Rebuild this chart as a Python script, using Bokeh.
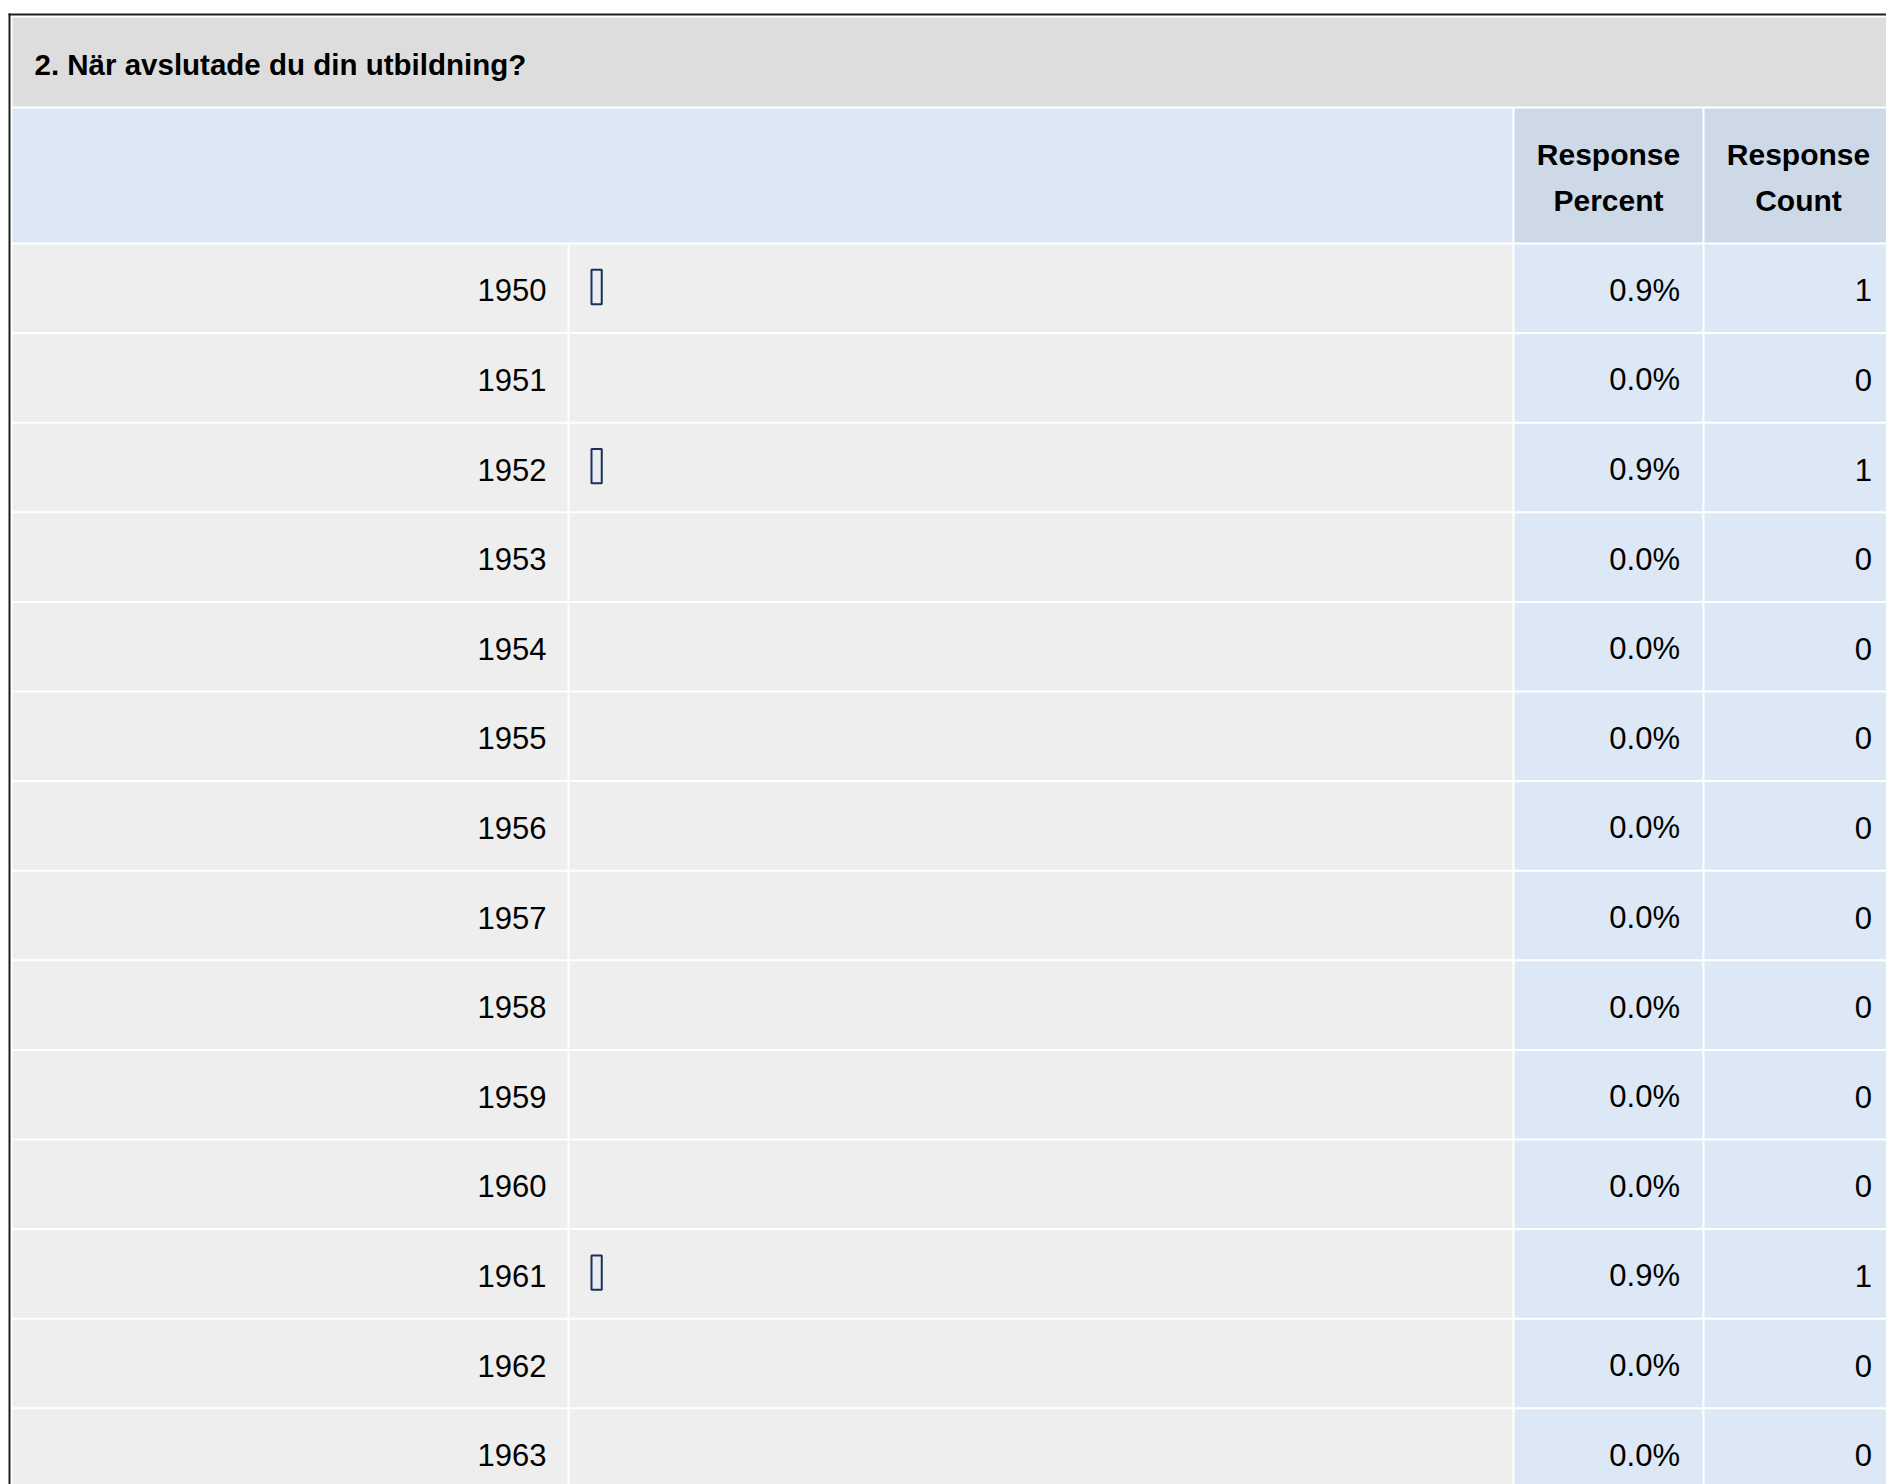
from bokeh.plotting import figure
from bokeh.models import Range1d, ColumnDataSource
from bokeh.core.properties import value
from bokeh.embed import file_html
from bokeh.resources import INLINE

# ---------------- data ----------------
question = "2. När avslutade du din utbildning?"
years = ["1950", "1951", "1952", "1953", "1954", "1955", "1956",
         "1957", "1958", "1959", "1960", "1961", "1962", "1963"]
response_percent = [0.9, 0.0, 0.9, 0.0, 0.0, 0.0, 0.0,
                    0.0, 0.0, 0.0, 0.0, 0.9, 0.0, 0.0]
response_count = [1, 0, 1, 0, 0, 0, 0, 0, 0, 0, 0, 1, 0, 0]
header_line1 = ["Response", "Response"]
header_line2 = ["Percent", "Count"]

# ---------------- layout / style ----------------
W, H = 1886, 1484
PAGE_X0, PAGE_Y0 = 0, 0
FONT = "Liberation Sans"
ROW_TOP = 244.0
ROW_PITCH = 89.6
ROW_GAP = 2.0
BAR_X0 = 591.0
PX_PER_PCT = 11.4
TXT_DY = 1.0 / ROW_PITCH

C_TITLE = "#dddddd"
C_HEAD = "#dce8f5"
C_COLHEAD = "#cdd9e7"
C_ROW = "#eeeeee"
C_CELL = "#dce8f5"
C_BORDER = "#1e1e1e"
C_BAR = "#1a3058"

p = figure(width=W, height=H,
           x_range=Range1d(PAGE_X0, PAGE_X0 + W),
           y_range=Range1d(PAGE_Y0 + H, PAGE_Y0),
           output_backend="svg", toolbar_location=None, min_border=0)
p.axis.visible = False
p.xgrid.visible = False
p.ygrid.visible = False
p.outline_line_color = None
p.background_fill_color = "white"
p.border_fill_color = "white"

# row-index range and percent range
p.extra_y_ranges = {"row": Range1d((PAGE_Y0 + H - ROW_TOP) / ROW_PITCH,
                                   (PAGE_Y0 - ROW_TOP) / ROW_PITCH)}
p.extra_x_ranges = {"pct": Range1d((PAGE_X0 - BAR_X0) / PX_PER_PCT,
                                   (PAGE_X0 + W - BAR_X0) / PX_PER_PCT)}

# outer border
p.quad(left=[8, 8], right=[10, 1900], top=[13, 13], bottom=[1500, 15],
       fill_color=C_BORDER, line_color=None)

# title band
p.quad(left=12, right=1900, top=17, bottom=106, fill_color=C_TITLE, line_color=None)
p.text(x=[34], y=[63.5], text=[question], text_font=value(FONT),
       text_font_size="29.5px", text_font_style="bold", text_color="#000000",
       text_align="left", text_baseline="middle")

# header band
p.quad(left=[12, 1514, 1704], right=[1512, 1702, 1900], top=[108] * 3,
       bottom=[242] * 3, fill_color=[C_HEAD, C_COLHEAD, C_COLHEAD], line_color=None)
col_centers = [1608, 1798]
p.text(x=col_centers, y=[154, 154], text=header_line1, text_font=value(FONT),
       text_font_size="30px", text_font_style="bold", text_color="#000000",
       text_align="center", text_baseline="middle")
p.text(x=col_centers, y=[200, 200], text=header_line2, text_font=value(FONT),
       text_font_size="30px", text_font_style="bold", text_color="#000000",
       text_align="center", text_baseline="middle")

# rows
n = len(years)
gap = ROW_GAP / ROW_PITCH
cells = dict(left=[], right=[], top=[], bottom=[], color=[])
col_lefts = [12, 569, 1514, 1704]
col_rights = [567, 1512, 1702, 1900]
col_colors = [C_ROW, C_ROW, C_CELL, C_CELL]
for i in range(n):
    for l, r, c in zip(col_lefts, col_rights, col_colors):
        cells["left"].append(l)
        cells["right"].append(r)
        cells["top"].append(i)
        cells["bottom"].append(i + 1 - gap)
        cells["color"].append(c)
p.quad(left="left", right="right", top="top", bottom="bottom", fill_color="color",
       line_color=None, source=ColumnDataSource(cells), y_range_name="row")

rows = ColumnDataSource(dict(
    year=years,
    pct=[f"{v:.1f}%" for v in response_percent],
    cnt=[str(c) for c in response_count],
    yc=[i + 0.5 + TXT_DY for i in range(n)],
))
common = dict(text_font=value(FONT), text_font_size="31px", text_color="#000000",
              text_baseline="middle", text_align="right", y_range_name="row",
              source=rows)
p.text(x=546, y="yc", text="year", **common)
p.text(x=1679.5, y="yc", text="pct", **common)
p.text(x=1871.5, y="yc", text="cnt", **common)

# bars
bar_idx = [i for i, v in enumerate(response_percent) if v > 0]
bars = ColumnDataSource(dict(
    left=[0.0] * len(bar_idx),
    right=[response_percent[i] for i in bar_idx],
    top=[i + 0.283 for i in bar_idx],
    bottom=[i + 0.666 for i in bar_idx],
))
p.quad(left="left", right="right", top="top", bottom="bottom", source=bars,
       fill_color="#e9edf2", line_color=C_BAR, line_width=2.0,
       x_range_name="pct", y_range_name="row")

open("out.html", "w").write(file_html(p, INLINE))
